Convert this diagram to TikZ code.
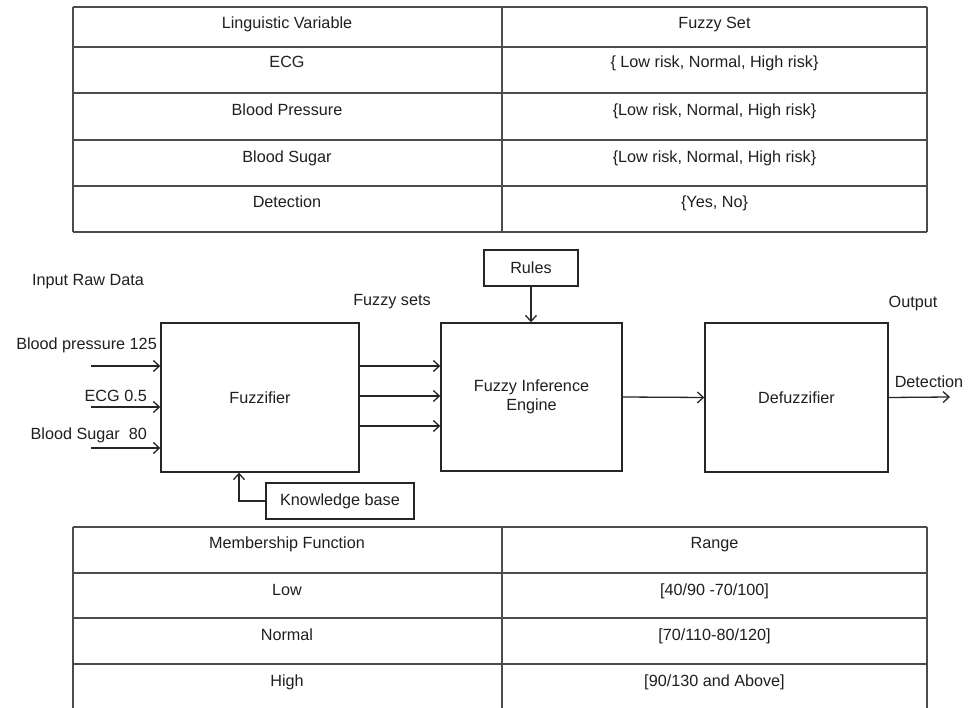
\documentclass[tikz,border=0pt]{standalone}
\usepackage{fontspec}
\setmainfont{Liberation Sans}
\usetikzlibrary{arrows.meta}
\begin{document}
\begin{tikzpicture}[x=1pt,y=-1pt,
  every node/.style={font=\fontsize{16.2}{19}\selectfont, text=black!88},
  blk/.style={draw=black!85, line width=1.4pt, inner sep=0pt, align=center},
  arr/.style={draw=black!85, line width=1.3pt, -{Straight Barb[length=6pt,width=11pt,line width=1.3pt]}},
  tline/.style={draw=black!70, line width=1.3pt},
  txt/.style={anchor=base, inner sep=0pt},
  lbl/.style={inner sep=0pt}]
\useasboundingbox (0,0) rectangle (978,708);

% ---------- top table ----------
\foreach \y in {7,47,93,140,186,232} \draw[tline] (73,\y) -- (927,\y);
\foreach \x in {73,502,927} \draw[tline] (\x,7) -- (\x,232);
\node[txt] (t1a) at (287,29) {Linguistic Variable};
\node[txt] (t1b) at (714.5,29) {Fuzzy Set};
\node[txt] (t2a) at (287,68) {ECG};
\node[txt] (t2b) at (714.5,68) {\{ Low risk, Normal, High risk\}};
\node[txt] (t3a) at (287,116) {Blood Pressure};
\node[txt] (t3b) at (714.5,116) {\{Low risk, Normal, High risk\}};
\node[txt] (t4a) at (287,163) {Blood Sugar};
\node[txt] (t4b) at (714.5,163) {\{Low risk, Normal, High risk\}};
\node[txt] (t5a) at (287,208) {Detection};
\node[txt] (t5b) at (714.5,208) {\{Yes, No\}};

% ---------- block diagram ----------
\node[blk, minimum width=198pt, minimum height=149pt] (fuzz) at (260,397.5) {Fuzzifier};
\node[blk, minimum width=181pt, minimum height=148pt] (fie) at (531.5,397) {Fuzzy Inference\\Engine};
\node[blk, minimum width=183pt, minimum height=149pt] (defz) at (796.5,397.5) {Defuzzifier};
\node[blk, minimum width=94pt, minimum height=36pt] (rules) at (531,268) {Rules};
\node[blk, minimum width=148pt, minimum height=36pt] (kb) at (340,501) {Knowledge base};

\node[lbl, anchor=west] (raw) at (32,282) {Input Raw Data};
\node[lbl, anchor=east] (bp) at (157,345) {Blood pressure 125};
\node[lbl, anchor=east] (ecg) at (147,396) {ECG 0.5};
\node[lbl, anchor=east] (bs) at (147,435) {Blood Sugar\ \ 80};
\node[lbl] (fs) at (392,302) {Fuzzy sets};
\node[lbl] (out) at (913,304) {Output};
\node[lbl] (det) at (929,382) {Detection};

\coordinate (i1) at (91,366);
\coordinate (i2) at (91,407);
\coordinate (i3) at (91,448);
\coordinate (f1) at (0,366);
\coordinate (f2) at (0,396);
\coordinate (f3) at (0,426);
\coordinate (dend) at (950,397);
\coordinate (kbx) at (239,0);

\draw[arr] (i1) -- (i1 -| fuzz.west);
\draw[arr] (i2) -- (i2 -| fuzz.west);
\draw[arr] (i3) -- (i3 -| fuzz.west);
\draw[arr] (fuzz.east |- f1) -- (fie.west |- f1);
\draw[arr] (fuzz.east |- f2) -- (fie.west |- f2);
\draw[arr] (fuzz.east |- f3) -- (fie.west |- f3);
\draw[arr] (rules.south) -- (rules.south |- fie.north);
\draw[arr] (fie.east) -- (defz.west);
\draw[arr] (defz.east) -- (dend);
\draw[arr] (kb.west) -| (fuzz.south -| kbx);

% ---------- bottom table ----------
\foreach \y in {527,573,618,664} \draw[tline] (73,\y) -- (927,\y);
\foreach \x in {73,502,927} \draw[tline] (\x,527) -- (\x,708);
\node[txt] (b1a) at (287,549) {Membership Function};
\node[txt] (b1b) at (714.5,549) {Range};
\node[txt] (b2a) at (287,595) {Low};
\node[txt] (b2b) at (714.5,595) {[40/90 -70/100]};
\node[txt] (b3a) at (287,640) {Normal};
\node[txt] (b3b) at (714.5,640) {[70/110-80/120]};
\node[txt] (b4a) at (287,686) {High};
\node[txt] (b4b) at (714.5,686) {[90/130 and Above]};
\end{tikzpicture}
\end{document}
